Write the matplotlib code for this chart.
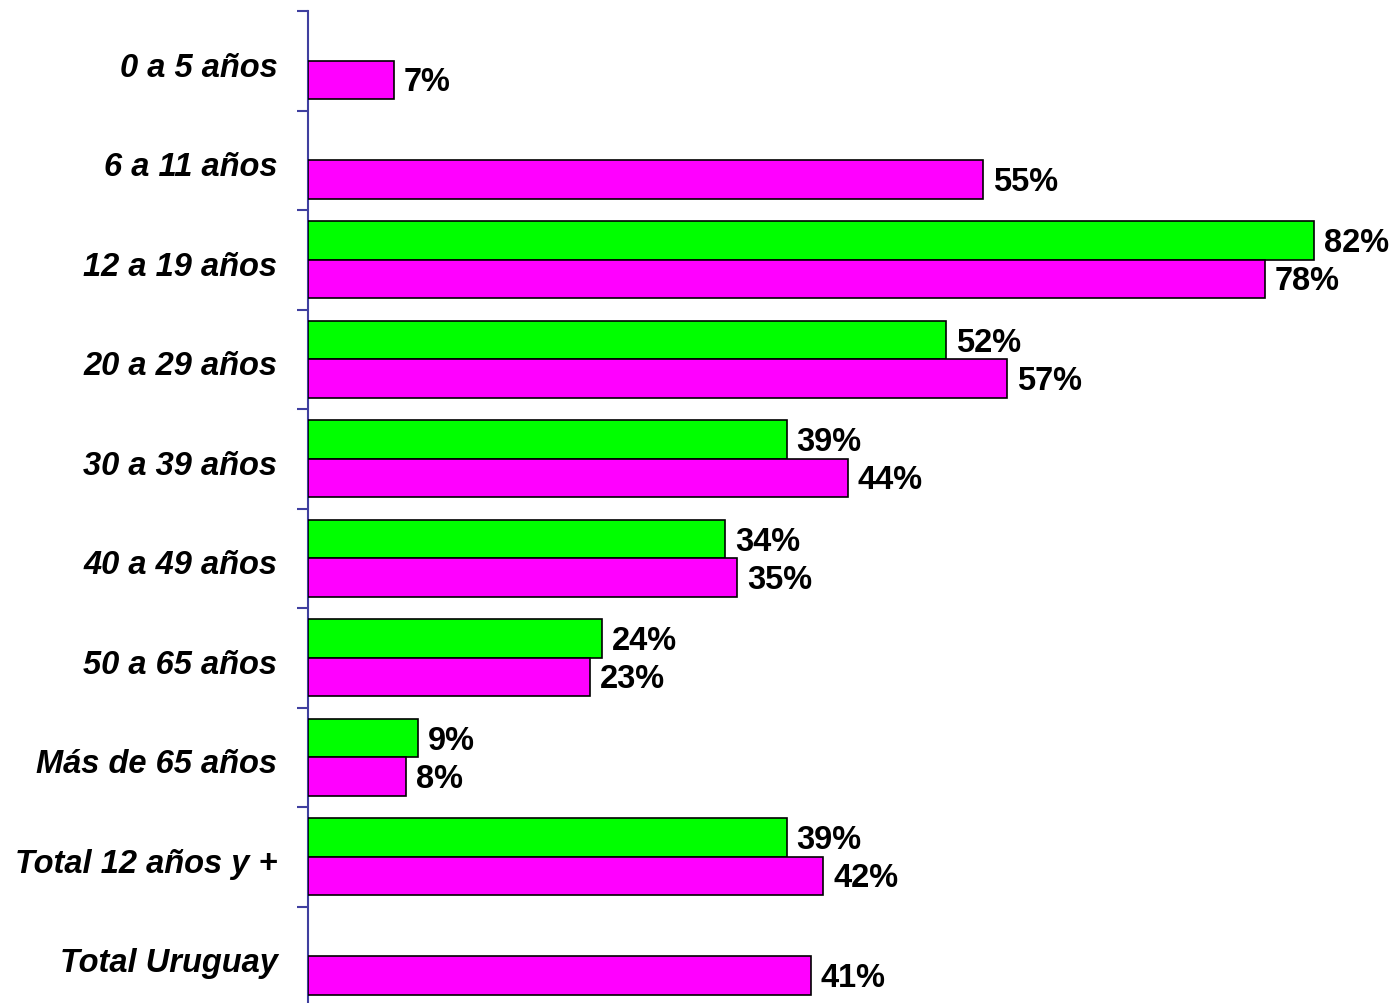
import numpy as np
import matplotlib.pyplot as plt

# Age groups, top to bottom
categories = ['0 a 5 años', '6 a 11 años', '12 a 19 años', '20 a 29 años',
              '30 a 39 años', '40 a 49 años', '50 a 65 años', 'Más de 65 años',
              'Total 12 años y +', 'Total Uruguay']
green_vals = [None, None, 82, 52, 39, 34, 24, 9, 39, None]
magenta_vals = [7, 55, 78, 57, 44, 35, 23, 8, 42, 41]

plt.rcParams['font.family'] = ['Liberation Sans', 'DejaVu Sans']

fig = plt.figure(figsize=(13.94, 10.04), dpi=100)
left = 308 / 1394
ax = fig.add_axes([left, -3 / 1004, 1 - left, 995 / 1004])

bar_h = 0.385
axis_col = '#3f3f9f'
y = np.arange(len(categories))

for i, (g, m) in enumerate(zip(green_vals, magenta_vals)):
    if g is not None:
        ax.barh(i - bar_h / 2, g, height=bar_h, color='#00ff00',
                edgecolor='black', linewidth=1.2, zorder=3)
        ax.text(g + 0.8, i - bar_h / 2 + 0.02, f'{g}%', va='center', ha='left',
                fontsize=23.5, fontweight='bold')
    ax.barh(i + bar_h / 2, m, height=bar_h, color='#ff00ff',
            edgecolor='black', linewidth=1.2, zorder=3)
    ax.text(m + 0.8, i + bar_h / 2 + 0.02, f'{m}%', va='center', ha='left',
            fontsize=23.5, fontweight='bold')

ax.set_xlim(0, 1086 / 12.27)
ax.set_ylim(len(categories) - 0.5, -0.5)

# category labels centred, boundary ticks as minor marks
ax.set_yticks(y + 0.03)
ax.set_yticklabels(categories, fontsize=23.5, fontweight='bold', style='italic')
ax.tick_params(axis='y', which='major', length=0, pad=22)
ax.set_yticks(np.arange(len(categories) + 1) - 0.5, minor=True)
ax.tick_params(axis='y', which='minor', length=8, width=1.5, color=axis_col,
               direction='out')

ax.set_xticks([])
for side in ['top', 'right', 'bottom']:
    ax.spines[side].set_visible(False)
ax.spines['left'].set_color(axis_col)
ax.spines['left'].set_linewidth(1.5)

fig.savefig('out.png', dpi=100, facecolor='white')
